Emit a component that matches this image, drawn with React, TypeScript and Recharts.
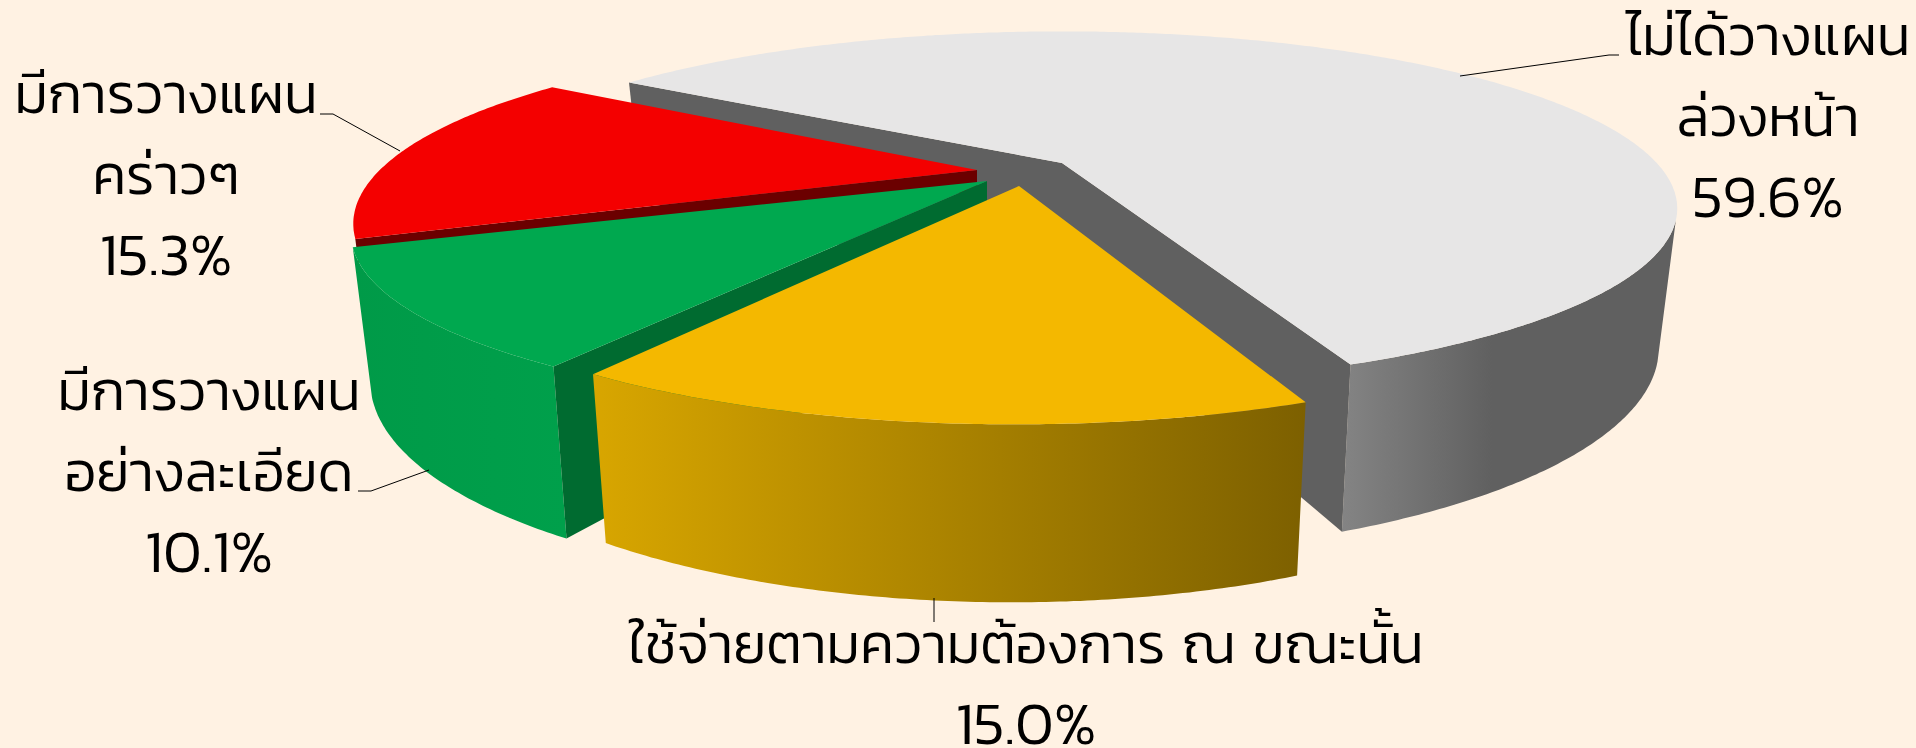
import React from 'react';
import { PieChart, Pie } from 'recharts';

// ---- data ----
const categories = ['ไม่ได้วางแผนล่วงหน้า', 'มีการวางแผนคร่าวๆ', 'มีการวางแผนอย่างละเอียด', 'ใช้จ่ายตามความต้องการ ณ ขณะนั้น'];
const shares = [59.6, 15.3, 10.1, 15.0];
const labelLines = [['ไม่ได้วางแผน', 'ล่วงหน้า'], ['มีการวางแผน', 'คร่าวๆ'], ['มีการวางแผน', 'อย่างละเอียด'], ['ใช้จ่ายตามความต้องการ ณ ขณะนั้น']];

const tableRows = categories.map((name, i) => ({ name, value: shares[i], lines: labelLines[i] }));

// ---- projection of the tilted disc ----
const W = 1916, H = 748;
const CX = 1000, CY = 175, R = 590;
const DEPTH = 132, SHRINK = 0.97;
const FONT = 'Kanit, Prompt, "Noto Sans Thai", "Noto Sans Thai Looped", Lato, "Noto Sans", sans-serif';

const LOOK = [
  { dx: 62, dy: -12, rot: -0.3, scale: 1.008, p: 0.256, k: 0.278, q: 0, cutDepth: 1, hasWall: true, top: '#E7E6E6', cut: '#606060', wall: [['0%', '#848484'], ['45%', '#606060'], ['100%', '#606060']] },
  { dx: -23, dy: -5, rot: -0.6, scale: 1, p: 0.287, k: 0.288, q: 0.012, cutDepth: 0.16, hasWall: false, top: '#F40000', cut: '#6B0000', wall: [['0%', '#B00000'], ['100%', '#B00000']] },
  { dx: -13, dy: 6, rot: -1.1, scale: 1, p: 0.287, k: 0.279, q: 0.03, cutDepth: 1, hasWall: true, top: '#00A84F', cut: '#006B30', wall: [['0%', '#009A48'], ['100%', '#00A04B']] },
  { dx: 19, dy: 11, rot: -1.1, scale: 1, p: 0.287, k: 0.288, q: 0.006, cutDepth: 1, hasWall: true, top: '#F4B800', cut: '#606060', wall: [['0%', '#D8A600'], ['100%', '#7D6000']] },
];
const LAYOUT = [
  { x: 1768, y: 55, leader: '1460,76 1609,55 1619,55' },
  { x: 166, y: 113, leader: '400,151 333,114 320,114' },
  { x: 209, y: 410, leader: '429,470 371,491 358,491' },
  { x: 1026, y: 663, leader: '934,598 934,622' },
];
const LINE_GAP = 81;

type P = [number, number, number];
const rad = (d: number) => (d * Math.PI) / 180;

const Slice3D = (props: any) => {
  const { cx, cy, outerRadius, startAngle, endAngle, index } = props;
  const i = index ?? tableRows.findIndex((d) => d.name === props.name);
  const look = LOOK[i];
  const tx = cx + look.dx, ty = cy + look.dy, r = outerRadius * look.scale;
  const a = startAngle + look.rot, b = endAngle + look.rot;

  const topPt = (deg: number): P => {
    const u = Math.cos(rad(deg)), v = Math.sin(rad(deg));
    const w = 1 + look.p * v + look.q * u;
    return [tx + (r * u) / w, ty - (r * look.k * v) / w, w];
  };
  const lower = (pt: P, f = 1): P => [
    tx + (pt[0] - tx) * (1 - (1 - SHRINK) * f),
    ty + (pt[1] - ty) * (1 - (1 - SHRINK) * f) + (f * DEPTH) / pt[2],
    pt[2],
  ];
  const poly = (pts: P[]) => 'M' + pts.map((p) => p[0].toFixed(1) + ',' + p[1].toFixed(1)).join('L') + 'Z';

  const tip: P = [tx, ty, 1];
  const rimAngles: number[] = [];
  const n = Math.ceil((b - a) * 2);
  for (let k = 0; k <= n; k++) rimAngles.push(a + ((b - a) * k) / n);
  const rim = rimAngles.map(topPt);
  const mid = topPt((a + b) / 2);

  // outer wall: only the part of the rim that faces the viewer
  const norm = (d: number) => ((d % 360) + 360) % 360;
  const fa = look.hasWall
    ? rimAngles.filter((d) => {
        const x = norm(d);
        return x >= 195 && x <= 342;
      })
    : [];
  const frontTop = fa.map(topPt);
  const frontBot = frontTop.map((p) => lower(p)).reverse();
  const xs = [...frontTop.map((p) => p[0]), ...frontBot.map((p) => p[0])];
  const gx1 = xs.length ? Math.min(...xs) : 0, gx2 = xs.length ? Math.max(...xs) : 1;
  const gid = 'wall' + i;

  const cutFaces = [a, b]
    .map((deg) => {
      const c = topPt(deg);
      const t = (mid[0] - tip[0]) / (c[0] - tip[0] || 1);
      const lineY = tip[1] + (c[1] - tip[1]) * t;
      const visible = mid[1] < lineY;
      return visible ? poly([tip, c, lower(c, look.cutDepth), lower(tip, look.cutDepth)]) : null;
    })
    .filter(Boolean) as string[];

  return (
    <g>
      <defs>
        <linearGradient id={gid} gradientUnits="userSpaceOnUse" x1={gx1} x2={gx2} y1={0} y2={0}>
          {look.wall.map((s, k) => (
            <stop key={k} offset={s[0]} stopColor={s[1]} />
          ))}
        </linearGradient>
      </defs>
      {frontTop.length > 1 && <path d={poly([...frontTop, ...frontBot])} fill={`url(#${gid})`} />}
      {cutFaces.map((d, k) => (
        <path key={k} d={d} fill={look.cut} />
      ))}
      <path d={poly([tip, ...rim])} fill={look.top} />
    </g>
  );
};

const SliceLabel = (props: any) => {
  const i = props.index;
  const lay = LAYOUT[i];
  const row = tableRows[i];
  const lines = [...row.lines, row.value.toFixed(1) + '%'];
  return (
    <g>
      <polyline points={lay.leader} fill="none" stroke="#000" strokeWidth={1} />
      {lines.map((t, k) => {
        const isPct = k === lines.length - 1;
        return (
          <text key={k} x={lay.x} y={lay.y + k * LINE_GAP} textAnchor="middle" fontFamily={FONT} fontSize={isPct ? 60 : 56} wordSpacing={4} fontWeight={300} fill="#000">
            {t}
          </text>
        );
      })}
    </g>
  );
};

export default function App() {
  return (
    <div style={{ width: W, height: H, overflow: 'hidden' }}>
      <style>{`html,body{margin:0;padding:0;background:#FFF2E3;overflow:hidden}`}</style>
      <PieChart width={W} height={H} margin={{ top: 0, right: 0, bottom: 0, left: 0 }}>
        <Pie
          data={tableRows}
          dataKey="value"
          nameKey="name"
          cx={CX}
          cy={CY}
          innerRadius={0}
          outerRadius={R}
          startAngle={-68}
          endAngle={292}
          paddingAngle={0}
          stroke="none"
          isAnimationActive={false}
          shape={Slice3D}
          label={SliceLabel}
          labelLine={false}
        />
      </PieChart>
    </div>
  );
}
